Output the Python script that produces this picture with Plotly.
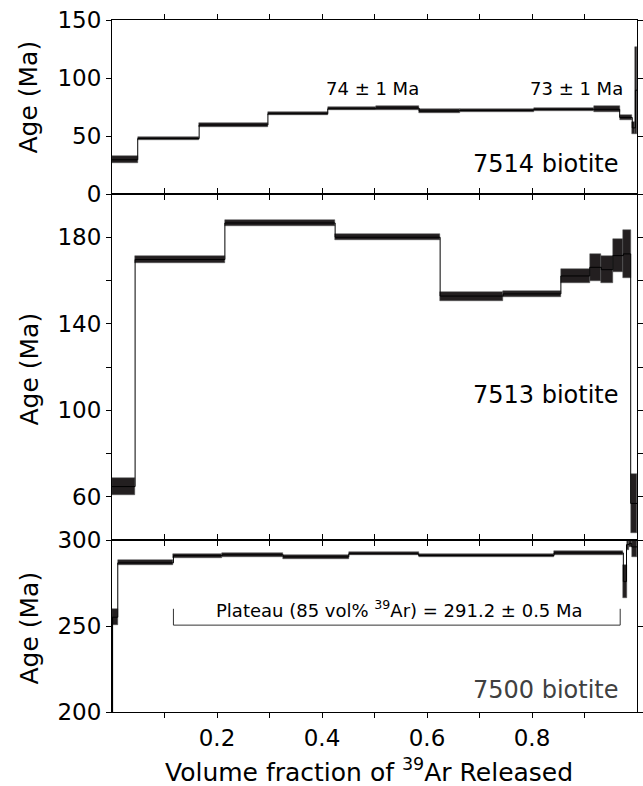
import plotly.graph_objects as go

# ---------------- data ----------------
# 7514 biotite (top panel): cumulative 39Ar fraction boundaries, age, 1-sided error (Ma)
s7514_left  = [0.000, 0.049, 0.166, 0.297, 0.411, 0.502, 0.585, 0.662, 0.803, 0.918, 0.967, 0.991, 0.997]
s7514_right = [0.049, 0.166, 0.297, 0.411, 0.502, 0.585, 0.662, 0.803, 0.918, 0.967, 0.991, 0.997, 1.000]
s7514_age   = [29.5, 47.8, 59.5, 69.2, 73.5, 74.1, 71.5, 72.1, 73.0, 73.0, 66.0, 57.0, 89.5]
s7514_err   = [3.0, 1.2, 1.7, 1.5, 1.5, 1.4, 1.5, 1.2, 1.2, 2.7, 2.0, 5.0, 37.5]

# 7513 biotite (middle panel)
s7513_left  = [0.000, 0.044, 0.215, 0.425, 0.625, 0.745, 0.855, 0.910, 0.932, 0.954, 0.974, 0.988]
s7513_right = [0.044, 0.215, 0.425, 0.625, 0.745, 0.855, 0.910, 0.932, 0.954, 0.974, 0.988, 1.000]
s7513_age   = [64.7, 169.7, 186.6, 180.0, 152.8, 153.8, 162.1, 166.1, 165.0, 171.5, 172.3, 56.9]
s7513_err   = [3.9, 1.5, 1.4, 1.3, 2.1, 1.5, 3.1, 6.2, 6.3, 7.5, 11.2, 13.8]

# 7500 biotite (bottom panel)
s7500_left  = [0.000, 0.011, 0.117, 0.210, 0.326, 0.451, 0.584, 0.842, 0.974, 0.980, 0.985, 0.990]
s7500_right = [0.011, 0.117, 0.210, 0.326, 0.451, 0.584, 0.842, 0.974, 0.980, 0.985, 0.990, 1.000]
s7500_age   = [255.1, 286.7, 290.9, 291.4, 290.2, 292.0, 291.0, 292.5, 275.8, 297.3, 298.0, 296.0]
s7500_err   = [4.8, 1.5, 1.2, 1.1, 1.1, 1.0, 1.0, 1.3, 9.7, 3.1, 2.0, 6.0]
s7500_start_age = 200.0   # spectrum lead-in from the axis floor

# plateau bracket for 7500
plateau_x = [0.117, 0.968]
plateau_base = 250.5
plateau_top = 260.0
plateau_label = "Plateau (85 vol% <sup>39</sup>Ar) = 291.2 \u00b1 0.5 Ma"

# axis ticks
x_tickvals = [0.2, 0.4, 0.6, 0.8]
x_ticktext = ["0.2", "0.4", "0.6", "0.8"]
x_minor = [0.1, 0.3, 0.5, 0.7, 0.9]
top_range = [0, 150]
top_ticks = [0, 50, 100, 150]
mid_range = [40, 200]
mid_tickvals = [60, 100, 140, 180]
mid_minor = [80, 120, 160]
bot_range = [200, 300]
bot_ticks = [200, 250, 300]

FONT = "DejaVu Sans"
BOX = "#231f20"

fig = go.Figure()


def add_spectrum(left, right, age, err, xa, ya, start=None):
    mids = [(l + r) / 2 for l, r in zip(left, right)]
    widths = [r - l for l, r in zip(left, right)]
    base = [a - e for a, e in zip(age, err)]
    height = [2 * e for e in err]
    fig.add_trace(go.Bar(x=mids, y=height, base=base, width=widths,
                         marker=dict(color=BOX, line=dict(color="#555555", width=0.5)),
                         xaxis=xa, yaxis=ya, showlegend=False, hoverinfo="skip"))
    xs = list(left) + [right[-1]]
    ys = list(age) + [age[-1]]
    fig.add_trace(go.Scatter(x=xs, y=ys, mode="lines", line=dict(color="black", width=1, shape="hv"),
                             xaxis=xa, yaxis=ya, showlegend=False, hoverinfo="skip"))
    if start is not None:
        fig.add_trace(go.Scatter(x=[left[0], left[0]], y=[start, age[0]], mode="lines",
                                 line=dict(color="black", width=2.2),
                                 xaxis=xa, yaxis=ya, showlegend=False, hoverinfo="skip"))


add_spectrum(s7514_left, s7514_right, s7514_age, s7514_err, "x3", "y3")
add_spectrum(s7513_left, s7513_right, s7513_age, s7513_err, "x2", "y2")
add_spectrum(s7500_left, s7500_right, s7500_age, s7500_err, "x", "y", start=s7500_start_age)

# plateau bracket
fig.add_trace(go.Scatter(x=[plateau_x[0], plateau_x[0], plateau_x[1], plateau_x[1]],
                         y=[plateau_top, plateau_base, plateau_base, plateau_top],
                         mode="lines", line=dict(color="#333333", width=1),
                         xaxis="x", yaxis="y", showlegend=False, hoverinfo="skip"))

H_TOTAL = 692.0
d_bot = 172 / H_TOTAL
d_mid = 518 / H_TOTAL

minor_x = dict(tickvals=x_minor, ticks="outside", ticklen=5, tickwidth=1, tickcolor="black",
               showgrid=False)
common_x = dict(range=[0, 1], tickvals=x_tickvals, ticktext=x_ticktext, showline=True,
                linecolor="black", linewidth=1, mirror="ticks", ticks="outside", ticklen=5,
                tickwidth=1, tickcolor="black", showgrid=False, zeroline=False,
                minor=minor_x,
                tickfont=dict(family=FONT, size=23, color="black"))
common_y = dict(showline=True, linecolor="black", linewidth=1, mirror="ticks", ticks="outside",
                ticklen=5, tickwidth=1, tickcolor="black", showgrid=False, zeroline=False,
                tickfont=dict(family=FONT, size=23, color="black"))

fig.update_layout(
    width=643, height=786,
    margin=dict(l=112, r=6, t=20, b=74, autoexpand=False),
    paper_bgcolor="white", plot_bgcolor="white",
    bargap=0, barmode="overlay",
    showlegend=False,
    xaxis=dict(**common_x, anchor="y", domain=[0, 1]),
    xaxis2=dict(**common_x, anchor="y2", matches="x", showticklabels=False),
    xaxis3=dict(**common_x, anchor="y3", matches="x", showticklabels=False),
    yaxis=dict(**common_y, domain=[0, d_bot], range=bot_range, tickvals=bot_ticks, anchor="x"),
    yaxis2=dict(**common_y, domain=[d_bot, d_mid], range=mid_range, tickvals=mid_tickvals,
                minor=dict(tickvals=mid_minor, ticks="outside", ticklen=5, tickwidth=1,
                           tickcolor="black", showgrid=False),
                anchor="x2"),
    yaxis3=dict(**common_y, domain=[d_mid, 1], range=top_range, tickvals=top_ticks, anchor="x3"),
)

ann = []
# y axis titles
for yc in [(712 - 97) / H_TOTAL, (712 - 369) / H_TOTAL, (712 - 628) / H_TOTAL]:
    ann.append(dict(text="Age (Ma)", xref="paper", yref="paper", x=(28.5 - 112) / 525, y=yc,
                    textangle=-90, showarrow=False, xanchor="center", yanchor="middle",
                    font=dict(family=FONT, size=25, color="black")))
# x axis title
ann.append(dict(text="Volume fraction of <sup>39</sup>Ar Released", xref="paper", yref="paper",
                x=0.49, y=(712 - 770) / H_TOTAL, showarrow=False, xanchor="center", yanchor="middle",
                font=dict(family=FONT, size=25, color="black")))
# panel labels
ann.append(dict(text="74 \u00b1 1 Ma", xref="x3", yref="y3", x=0.497, y=91, showarrow=False,
                font=dict(family=FONT, size=18, color="black")))
ann.append(dict(text="73 \u00b1 1 Ma", xref="x3", yref="y3", x=0.885, y=91, showarrow=False,
                font=dict(family=FONT, size=18, color="black")))
ann.append(dict(text="7514 biotite", xref="x3", yref="y3", x=0.97, y=26, xanchor="right",
                yanchor="middle", showarrow=False, font=dict(family=FONT, size=24, color="black")))
ann.append(dict(text="7513 biotite", xref="x2", yref="y2", x=0.97, y=107, xanchor="right",
                yanchor="middle", showarrow=False, font=dict(family=FONT, size=24, color="black")))
ann.append(dict(text="7500 biotite", xref="x", yref="y", x=0.97, y=213, xanchor="right",
                yanchor="middle", showarrow=False, font=dict(family=FONT, size=24, color="#404040")))
ann.append(dict(text=plateau_label, xref="x", yref="y", x=0.547, y=259.7, xanchor="center",
                yanchor="middle", showarrow=False, font=dict(family=FONT, size=18, color="black")))
fig.update_layout(annotations=ann)

fig.write_html("out.html")
